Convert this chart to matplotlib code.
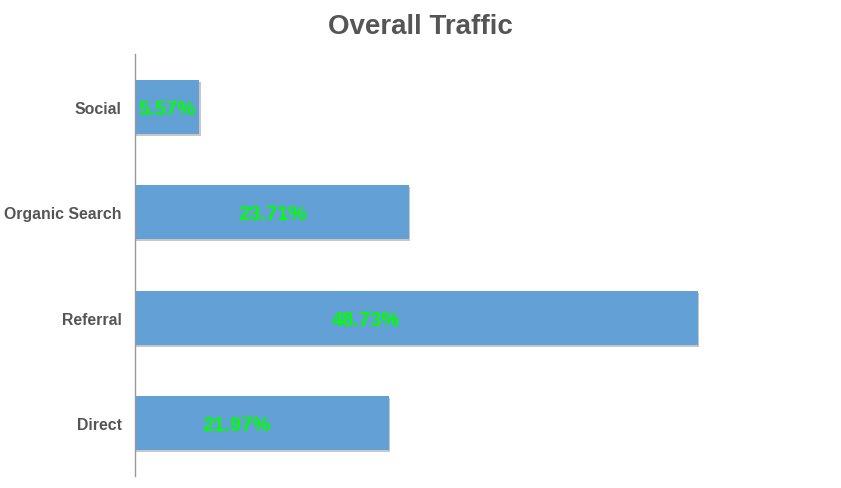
import matplotlib
matplotlib.use("Agg")
import matplotlib.pyplot as plt
import matplotlib.patheffects as pe

categories = ["Direct", "Referral", "Organic Search", "Social"]
values = [21.97, 48.73, 23.71, 5.57]
value_labels = ["21.97%", "48.73%", "23.71%", "5.57%"]
label_pos = [8.75, 20.0, 11.86, 2.79]

plt.rcParams['font.family'] = ['Liberation Sans', 'DejaVu Sans']

fig = plt.figure(figsize=(8.41, 4.89), dpi=100)
W, H = 841, 489
ax = fig.add_axes([135 / W, 1 - 477 / H, (800 - 135) / W, (477 - 55) / H])

ypos = list(range(len(categories)))
bars = ax.barh(ypos, values, height=0.513, color="#62a0d6", zorder=2)
for b in bars:
    b.set_path_effects([pe.SimplePatchShadow(offset=(1, -1.5), shadow_rgbFace="#000000", alpha=0.22), pe.Normal()])

for y, x, t in zip(ypos, label_pos, value_labels):
    ax.text(x, y - 0.015, t, ha="center", va="center", color="#00ff00",
            fontsize=14.5, fontweight="bold", zorder=3)

ax.set_xlim(0, (800 - 135) / ((698 - 135) / 48.73))
ax.set_ylim(-0.5, 3.5)
ax.set_yticks(ypos)
ax.set_yticklabels(categories, fontsize=11.4, fontweight="bold", color="#555555")
ax.tick_params(axis="y", length=0, pad=9.5)
ax.set_xticks([])
for s in ["top", "right", "bottom"]:
    ax.spines[s].set_visible(False)
ax.spines["left"].set_color("#999999")
ax.spines["left"].set_linewidth(1)

fig.text(420 / W, 1 - 27 / H, "Overall Traffic", ha="center", va="center",
         fontsize=20, fontweight="bold", color="#555555")

fig.savefig("out.png", dpi=100)
